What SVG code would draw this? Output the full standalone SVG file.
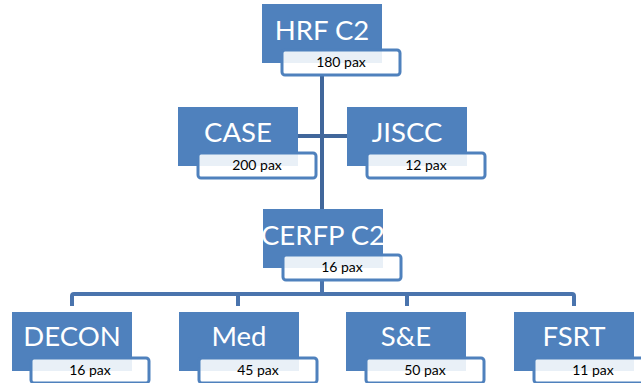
<svg xmlns="http://www.w3.org/2000/svg" width="641" height="383" viewBox="0 0 641 383">
<style>
.main{fill:#4f81bd;}
.sub{fill:#ffffff;fill-opacity:0.88;stroke:#4f81bd;stroke-width:3;}
.lbl{font-family:Lato,"Liberation Sans",sans-serif;font-size:27.5px;fill:#ffffff;text-anchor:middle;}
.pax{font-family:Lato,"Liberation Sans",sans-serif;font-size:14px;fill:#000000;text-anchor:middle;}
.conn{fill:none;stroke:#41679b;stroke-width:4;stroke-linejoin:round;}
.conn2{fill:none;stroke:#4a74ad;stroke-width:4;stroke-linejoin:round;}
</style>
<rect width="641" height="383" fill="#ffffff"/>
<g id="connectors">
<path class="conn" d="M322 75 V209"/>
<path class="conn" d="M298 136 H347"/>
<path class="conn2" d="M322 281 V294"/>
<path class="conn2" d="M72 306 V296 Q72 294 74 294 H572 Q574 294 574 296 V306"/>
<path class="conn2" d="M238 294 V306"/>
<path class="conn2" d="M407 294 V306"/>
</g>
<g id="hrf">
<rect class="main" x="262" y="4" width="120" height="59"/>
<rect class="sub" x="282" y="50" width="118" height="25" rx="3"/>
<text class="lbl" x="322" y="40">HRF C2</text>
<text class="pax" x="341" y="67">180 pax</text>
</g>
<g id="case">
<rect class="main" x="178" y="107" width="120" height="59"/>
<rect class="sub" x="198" y="153" width="118" height="25" rx="3"/>
<text class="lbl" x="238" y="142">CASE</text>
<text class="pax" x="257" y="170">200 pax</text>
</g>
<g id="jiscc">
<rect class="main" x="347" y="107" width="120" height="59"/>
<rect class="sub" x="367" y="153" width="118" height="25" rx="3"/>
<text class="lbl" x="407" y="142">JISCC</text>
<text class="pax" x="426" y="170">12 pax</text>
</g>
<g id="cerfp">
<rect class="main" x="263" y="209" width="120" height="59"/>
<rect class="sub" x="283" y="255" width="118" height="25" rx="3"/>
<text class="lbl" x="323" y="245">CERFP C2</text>
<text class="pax" x="342" y="272">16 pax</text>
</g>
<g id="decon">
<rect class="main" x="12" y="312" width="120" height="59"/>
<rect class="sub" x="31" y="358" width="118" height="25" rx="3"/>
<text class="lbl" x="72" y="346">DECON</text>
<text class="pax" x="90" y="375">16 pax</text>
</g>
<g id="med">
<rect class="main" x="179" y="312" width="120" height="59"/>
<rect class="sub" x="199" y="358" width="118" height="25" rx="3"/>
<text class="lbl" x="239" y="346">Med</text>
<text class="pax" x="258" y="375">45 pax</text>
</g>
<g id="se">
<rect class="main" x="346" y="312" width="120" height="59"/>
<rect class="sub" x="366" y="358" width="118" height="25" rx="3"/>
<text class="lbl" x="406" y="346">S&amp;E</text>
<text class="pax" x="425" y="375">50 pax</text>
</g>
<g id="fsrt">
<rect class="main" x="514" y="312" width="120" height="59"/>
<rect class="sub" x="534" y="358" width="118" height="25" rx="3"/>
<text class="lbl" x="574" y="346">FSRT</text>
<text class="pax" x="593" y="375">11 pax</text>
</g>
</svg>
